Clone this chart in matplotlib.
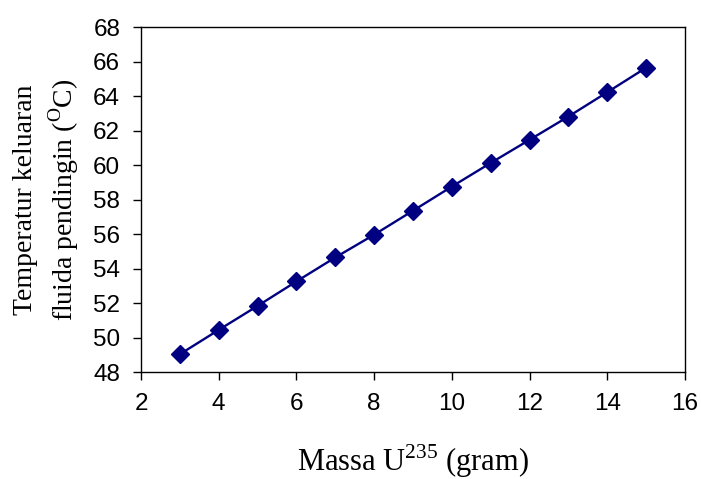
import numpy as np
import matplotlib.pyplot as plt

# data
massa = [3, 4, 5, 6, 7, 8, 9, 10, 11, 12, 13, 14, 15]
suhu = [49.03, 50.44, 51.83, 53.25, 54.64, 55.96, 57.35, 58.75, 60.12, 61.46, 62.81, 64.22, 65.64]

plt.rcParams['mathtext.fontset'] = 'custom'
plt.rcParams['mathtext.rm'] = 'Liberation Serif'

fig = plt.figure(figsize=(7.01, 4.79), dpi=100)
ax = fig.add_axes([141 / 701, 1 - 372 / 479, (685 - 141) / 701, (372 - 27) / 479])

ax.plot(massa, suhu, color='#000080', lw=1.7, marker='D', ms=9.5,
        markerfacecolor='#000080', markeredgecolor='#000080')

ax.set_xlim(2, 16)
ax.set_ylim(48, 68)
ax.set_xticks(np.arange(2, 17, 2))
ax.set_yticks(np.arange(48, 69, 2))
ax.tick_params(direction='out', length=6, width=1, labelsize=17.5, pad=9)
for lab in ax.get_xticklabels() + ax.get_yticklabels():
    lab.set_family('Liberation Sans')
for s in ax.spines.values():
    s.set_linewidth(1)

ax.set_xlabel(r'Massa U$^{235}$ (gram)', family='Liberation Serif', fontsize=22, labelpad=20)
ax.set_ylabel('Temperatur keluaran\n' + r'fluida pendingin ($^{\mathrm{O}}$C)',
              family='Liberation Serif', fontsize=20, labelpad=9, linespacing=1.3)

fig.savefig('out.png', dpi=100)
